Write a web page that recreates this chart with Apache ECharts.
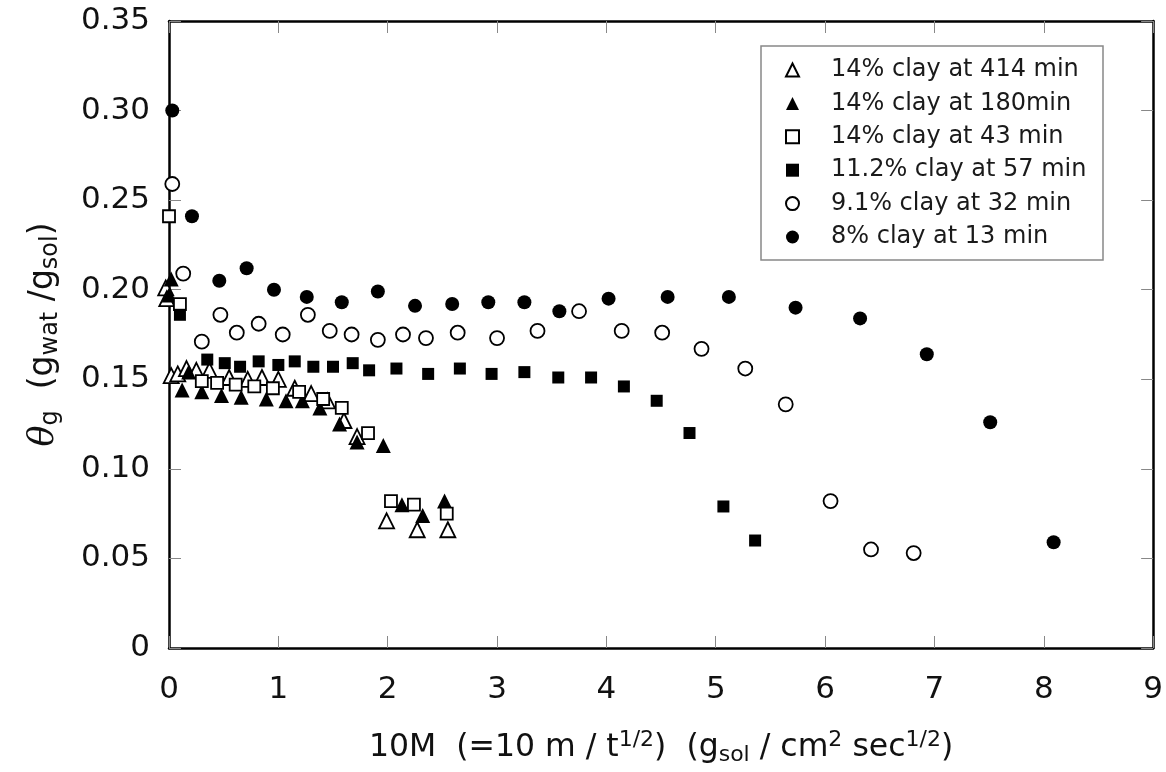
<!DOCTYPE html>
<html>
<head>
<meta charset="utf-8">
<script src="https://cdn.jsdelivr.net/npm/echarts@6/dist/echarts.min.js"></script>
<style>
html,body{margin:0;padding:0;background:#fff;}
#c{width:1166px;height:772px;}
</style>
</head>
<body>
<div id="c"></div>
<script>
// ---- data (x = 10M, y = theta_g) ----
const seriesNames = [
  '14% clay at 414 min',
  '14% clay at 180min',
  '14% clay at 43 min',
  '11.2% clay at 57 min',
  '9.1% clay at 32 min',
  '8% clay at 13 min'
];
const clay14_414 = [[-0.03,0.201],[-0.02,0.195],[0.02,0.152],[0.08,0.153],[0.16,0.156],[0.25,0.155],[0.37,0.155],[0.55,0.151],[0.72,0.150],[0.85,0.151],[1.0,0.150],[1.15,0.145],[1.3,0.142],[1.45,0.138],[1.6,0.127],[1.72,0.118],[1.99,0.071],[2.27,0.066],[2.55,0.066]];
const clay14_180 = [[0.02,0.206],[0.0,0.197],[0.12,0.144],[0.18,0.154],[0.3,0.143],[0.48,0.141],[0.66,0.140],[0.89,0.139],[1.07,0.138],[1.22,0.138],[1.38,0.134],[1.56,0.125],[1.72,0.115],[1.96,0.113],[2.13,0.080],[2.32,0.074],[2.52,0.082]];
const clay14_43 = [[0.0,0.241],[0.1,0.192],[0.3,0.149],[0.44,0.148],[0.61,0.147],[0.78,0.146],[0.95,0.145],[1.19,0.143],[1.41,0.139],[1.58,0.134],[1.82,0.120],[2.03,0.082],[2.24,0.080],[2.54,0.075]];
const clay112_57 = [[0.1,0.186],[0.35,0.161],[0.51,0.159],[0.65,0.157],[0.82,0.160],[1.0,0.158],[1.15,0.160],[1.32,0.157],[1.5,0.157],[1.68,0.159],[1.83,0.155],[2.08,0.156],[2.37,0.153],[2.66,0.156],[2.95,0.153],[3.25,0.154],[3.56,0.151],[3.86,0.151],[4.16,0.146],[4.46,0.138],[4.76,0.120],[5.07,0.079],[5.36,0.060]];
const clay91_32 = [[0.03,0.259],[0.13,0.209],[0.30,0.171],[0.47,0.186],[0.62,0.176],[0.82,0.181],[1.04,0.175],[1.27,0.186],[1.47,0.177],[1.67,0.175],[1.91,0.172],[2.14,0.175],[2.35,0.173],[2.64,0.176],[3.0,0.173],[3.37,0.177],[3.75,0.188],[4.14,0.177],[4.51,0.176],[4.87,0.167],[5.27,0.156],[5.64,0.136],[6.05,0.082],[6.42,0.055],[6.81,0.053]];
const clay8_13 = [[0.03,0.300],[0.21,0.241],[0.46,0.205],[0.71,0.212],[0.96,0.200],[1.26,0.196],[1.58,0.193],[1.91,0.199],[2.25,0.191],[2.59,0.192],[2.92,0.193],[3.25,0.193],[3.57,0.188],[4.02,0.195],[4.56,0.196],[5.12,0.196],[5.73,0.190],[6.32,0.184],[6.93,0.164],[7.51,0.126],[8.09,0.059]];
const xTickLabels = ['0','1','2','3','4','5','6','7','8','9'];
const yTickLabels = ['0','0.05','0.10','0.15','0.20','0.25','0.30','0.35'];

const FONT = 'DejaVu Sans';
const open = {color:'#fff', borderColor:'#000', borderWidth:1.8, opacity:1};
const filled = {color:'#000', borderColor:'#000', borderWidth:0, opacity:1};
const styles = [
  {data: clay14_414, symbol:'triangle', size:15, item: open},
  {data: clay14_180, symbol:'triangle', size:15, item: filled},
  {data: clay14_43, symbol:'rect', size:12, item: open},
  {data: clay112_57, symbol:'rect', size:12, item: filled},
  {data: clay91_32, symbol:'circle', size:14, item: open},
  {data: clay8_13, symbol:'circle', size:14, item: filled}
];

const axisLineStyle = {show:true, onZero:false, lineStyle:{color:'#000', width:2.5}};
const tickStyle = {show:true, inside:true, length:12, lineStyle:{color:'#888', width:1}};

const chart = echarts.init(document.getElementById('c'), null, {renderer:'canvas'});
chart.setOption({
  animation:false,
  backgroundColor:'#fff',
  textStyle:{fontFamily:FONT},
  grid:{left:169, right:9, top:21, bottom:124},
  legend:{
    orient:'vertical',
    left:761, top:46,
    padding:[9,16,8,24],
    itemGap:3.4,
    itemWidth:13, itemHeight:13,
    backgroundColor:'#fff',
    borderColor:'#888', borderWidth:1.5, borderRadius:0,
    textStyle:{fontSize:24, color:'#1a1a1a', fontFamily:FONT, lineHeight:30,
      width:256, overflow:'none', padding:[0,0,0,27]},
    data: seriesNames
  },
  xAxis:[{
    type:'value', min:0, max:9, interval:1, position:'bottom',
    axisLine:axisLineStyle, axisTick:tickStyle, splitLine:{show:false},
    axisLabel:{fontSize:31, color:'#111', fontFamily:FONT, margin:26,
      formatter: v => xTickLabels[Math.round(v)]},
    name:'10M  (=10 m / t{sup|1/2})  (g{sub|sol} / cm{sup|2} sec{sup|1/2})',
    nameLocation:'middle', nameGap:81,
    nameTextStyle:{fontSize:31.5, color:'#111', fontFamily:FONT,
      rich:{sup:{fontSize:22, padding:[0,0,15,0], color:'#111', fontFamily:FONT},
            sub:{fontSize:22, padding:[15,0,0,0], color:'#111', fontFamily:FONT}}}
  },{
    type:'value', min:0, max:9, interval:1, position:'top',
    axisLine:axisLineStyle, axisTick:tickStyle, splitLine:{show:false},
    axisLabel:{show:false}
  }],
  yAxis:[{
    type:'value', min:0, max:0.35, interval:0.05, position:'left',
    axisLine:axisLineStyle, axisTick:tickStyle, splitLine:{show:false},
    axisLabel:{fontSize:31, color:'#111', fontFamily:FONT, margin:19,
      formatter: (v) => yTickLabels[Math.round(v/0.05)]},
    name:'{th|θ}{sub|g}  (g{sub|wat} /g{sub|sol})',
    nameLocation:'middle', nameRotate:90, nameGap:106,
    nameTextStyle:{fontSize:33, color:'#111', fontFamily:FONT,
      rich:{th:{fontSize:35, fontStyle:'italic', color:'#111', fontFamily:'DejaVu Serif'},
            sub:{fontSize:24, padding:[15,0,0,0], color:'#111', fontFamily:FONT}}}
  },{
    type:'value', min:0, max:0.35, interval:0.05, position:'right',
    axisLine:axisLineStyle, axisTick:tickStyle, splitLine:{show:false},
    axisLabel:{show:false}
  }],
  series: styles.map((s,i) => ({
    name: seriesNames[i],
    type:'scatter',
    xAxisIndex:0, yAxisIndex:0,
    symbol:s.symbol, symbolSize:s.size,
    clip:false,
    itemStyle:s.item,
    emphasis:{disabled:true},
    data:s.data
  }))
});
</script>
</body>
</html>
